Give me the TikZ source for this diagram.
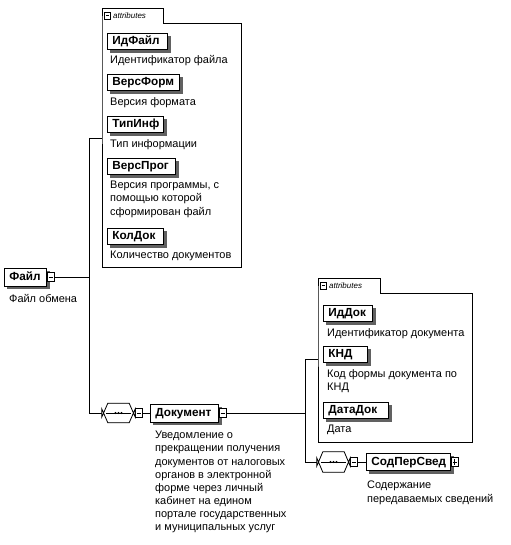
\documentclass[tikz,border=0pt]{standalone}
\usepackage{fontspec}
\setmainfont{Liberation Sans}
\usetikzlibrary{backgrounds}
\begin{document}
\begin{tikzpicture}[x=1bp,y=-1bp,
  line/.style={line width=0.8bp, black},
  desc/.style={font=\fontsize{11}{13.2}\selectfont, inner sep=0pt, align=left, anchor=north west},
  elem/.style={draw, line width=0.8bp, fill=white, font=\bfseries\fontsize{11.8}{13}\selectfont,
    inner xsep=5bp, inner ysep=0pt, text height=8.5bp, text depth=2bp, align=left},
  attel/.style={elem, anchor=north west, minimum height=16bp},
  shadowfill/.style={fill=black!62},
  icon/.style={draw, line width=0.7bp, fill=white, inner sep=0pt, minimum width=7bp, minimum height=9bp, anchor=west,
    path picture={\draw[line width=0.7bp] ([xshift=1.5bp]path picture bounding box.west) -- ([xshift=-1.5bp]path picture bounding box.east);}},
  plusicon/.style={icon, path picture={\draw[line width=0.7bp] ([xshift=1.5bp]path picture bounding box.west) -- ([xshift=-1.5bp]path picture bounding box.east);
    \draw[line width=0.7bp] ([yshift=-1.5bp]path picture bounding box.north) -- ([yshift=1.5bp]path picture bounding box.south);}},
  seq/.style={inner sep=0pt, minimum width=33bp, minimum height=19bp},
  tabtext/.style={font=\itshape\fontsize{8}{9}\selectfont, inner sep=0pt, anchor=west},
  tabicon/.style={icon, minimum width=6bp, minimum height=7bp}
]
\useasboundingbox (0,0) rectangle (511,545);

% ---------- top attributes group ----------
\node[inner sep=0pt, minimum width=139bp, minimum height=244bp, anchor=north west] (attrA) at (102,23) {};
\draw[line] (attrA.south west) -- (attrA.north west) -- ++(0,-15) -- ++(61,0) -- ++(0,15) -- (attrA.north east) -- (attrA.south east) -- cycle;
\node[tabicon] (tabAicon) at (104,15.5) {};
\node[tabtext] (tabAtext) at (113,15.5) {attributes};

\node[attel, minimum width=60bp, text width=50bp] (idfile) at (107,33) {ИдФайл};
\node[desc] (idfiled) at (110,55) {Идентификатор файла};
\node[attel, minimum width=72bp, text width=62bp] (versform) at (107,74) {ВерсФорм};
\node[desc] (versformd) at (110,97) {Версия формата};
\node[attel, minimum width=56bp, text width=46bp] (tipinf) at (107,116) {ТипИнф};
\node[desc] (tipinfd) at (110,139) {Тип информации};
\node[attel, minimum width=68bp, text width=58bp] (versprog) at (107,158) {ВерсПрог};
\node[desc] (versprogd) at (110,181) {Версия программы, с\\помощью которой\\сформирован файл};
\node[attel, minimum width=56bp, text width=46bp] (koldok) at (107,228) {КолДок};
\node[desc] (koldokd) at (110,251) {Количество документов};

% ---------- root ----------
\node[elem, anchor=west, minimum width=42bp, minimum height=18bp, text width=32bp] (file) at (4,277) {Файл};
\node[icon] (fileicon) at (file.east) {};
\node[desc] (filed) at (9,294) {Файл обмена};

\coordinate (jAtop) at (89,138);
\coordinate (jAbot) at (89,413);
\draw[line] (fileicon.east) -- (fileicon.east -| jAtop);
\draw[line] (jAtop) -- (jAbot);
\draw[line] (jAtop) -- (jAtop -| attrA.west);

% ---------- sequence 1 and Документ ----------
\node[seq] (seqA) at (118.5,413) {};
\node[icon] (seqAicon) at (seqA.east) {};
\draw[line] (jAbot) -- (seqA.west);
\node[elem, anchor=west, minimum width=68bp, minimum height=18bp, text width=58bp] (doc) at (150,413) {Документ};
\node[icon] (docicon) at (doc.east) {};
\draw[line] (seqAicon.east) -- (doc.west);
\node[desc] (docd) at (155,431) {Уведомление о\\прекращении получения\\документов от налоговых\\органов в электронной\\форме через личный\\кабинет на едином\\портале государственных\\и муниципальных услуг};

% ---------- lower attributes group ----------
\node[inner sep=0pt, minimum width=154bp, minimum height=149bp, anchor=north west] (attrB) at (318,293) {};
\draw[line] (attrB.south west) -- (attrB.north west) -- ++(0,-15) -- ++(62,0) -- ++(0,15) -- (attrB.north east) -- (attrB.south east) -- cycle;
\node[tabicon] (tabBicon) at (320,285.5) {};
\node[tabtext] (tabBtext) at (329,285.5) {attributes};

\node[attel, minimum width=49bp, text width=39bp] (iddok) at (323,305) {ИдДок};
\node[desc] (iddokd) at (327,328) {Идентификатор документа};
\node[attel, minimum width=44bp, text width=34bp] (knd) at (323,346) {КНД};
\node[desc] (kndd) at (327,369) {Код формы документа по\\КНД};
\node[attel, minimum width=65bp, text width=55bp] (datadok) at (323,402) {ДатаДок};
\node[desc] (datadokd) at (327,425) {Дата};

\coordinate (jBtop) at (305,359);
\coordinate (jBbot) at (305,462);
\draw[line] (docicon.east) -- (docicon.east -| jBtop);
\draw[line] (jBtop) -- (jBbot);
\draw[line] (jBtop) -- (jBtop -| attrB.west);

% ---------- sequence 2 and СодПерСвед ----------
\node[seq, minimum height=20bp] (seqB) at (333.5,462) {};
\node[icon] (seqBicon) at (seqB.east) {};
\draw[line] (jBbot) -- (seqB.west);
\node[elem, anchor=west, minimum width=84bp, minimum height=17bp, text width=74bp] (sod) at (366,462) {СодПерСвед};
\node[plusicon] (sodicon) at (sod.east) {};
\draw[line] (seqBicon.east) -- (sod.west);
\node[desc] (sodd) at (367,481) {Содержание\\передаваемых сведений};

% ---------- sequence shapes (octagons with dots) ----------
\foreach \s in {seqA,seqB}{
  \draw[line, fill=white]
    ([yshift=-4bp]\s.west) -- ([xshift=6bp]\s.north west) -- ([xshift=-6bp]\s.north east) -- ([yshift=-4bp]\s.east)
    -- ([yshift=4bp]\s.east) -- ([xshift=-6bp]\s.south east) -- ([xshift=6bp]\s.south west) -- ([yshift=4bp]\s.west) -- cycle;
  \draw[line width=0.7bp] ([xshift=4bp]\s.west) -- ([xshift=-4bp]\s.east);
  \fill (\s.center) circle (1.1bp);
  \fill ([xshift=-3bp]\s.center) circle (1.1bp);
  \fill ([xshift=3bp]\s.center) circle (1.1bp);
}

% ---------- shadows ----------
\begin{pgfonlayer}{background}
  \foreach \n in {idfile,versform,tipinf,versprog,koldok,file,doc,iddok,knd,datadok,sod}{
    \fill[shadowfill] ([xshift=3bp,yshift=-3bp]\n.south west) rectangle ([xshift=3bp,yshift=-3bp]\n.north east);
  }
  \foreach \s in {seqA,seqB}{
    \fill[shadowfill, shift={(2.5bp,-2.5bp)}]
      ([yshift=-4bp]\s.west) -- ([xshift=6bp]\s.north west) -- ([xshift=-6bp]\s.north east) -- ([yshift=-4bp]\s.east)
      -- ([yshift=4bp]\s.east) -- ([xshift=-6bp]\s.south east) -- ([xshift=6bp]\s.south west) -- ([yshift=4bp]\s.west) -- cycle;
  }
\end{pgfonlayer}
\end{tikzpicture}
\end{document}
